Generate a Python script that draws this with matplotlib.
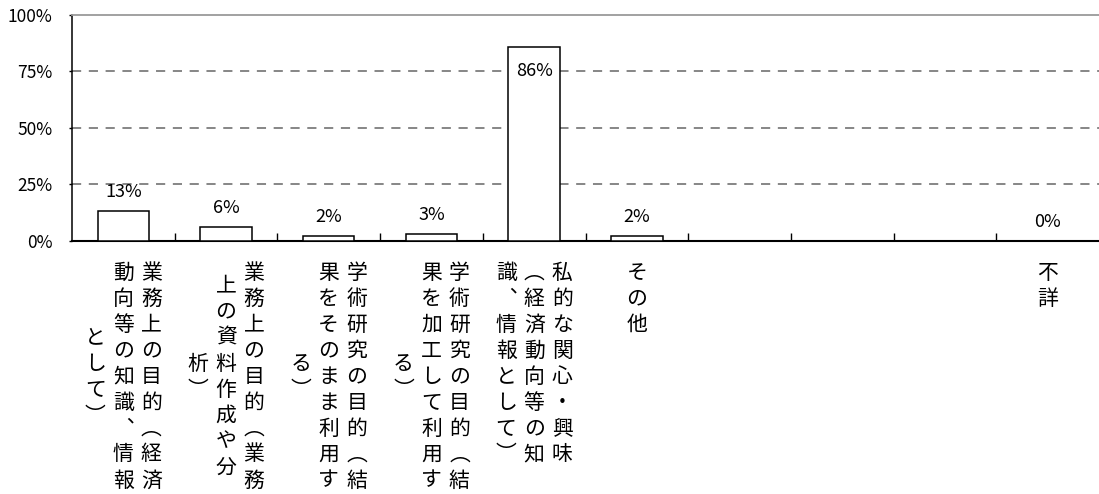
import numpy as np
import matplotlib
matplotlib.use("Agg")
from matplotlib import pyplot as plt

plt.rcParams['font.family'] = ['Noto Sans CJK JP', 'DejaVu Sans']

# categories, column breaks as in the reference (vertical text, right to left)
categories = [
    "業務上の目的（経済\n動向等の知識、情報\nとして）",
    "業務上の目的（業務\n上の資料作成や分\n析）",
    "学術研究の目的（結\n果をそのまま利用す\nる）",
    "学術研究の目的（結\n果を加工して利用す\nる）",
    "私的な関心・興味\n（経済動向等の知\n識、情報として）",
    "その他",
    "",
    "",
    "",
    "不詳",
]
values = [13, 6, 2, 3, 86, 2, None, None, None, 0]
value_labels = ["13%", "6%", "2%", "3%", "86%", "2%", "", "", "", "0%"]
yticks = [0, 25, 50, 75, 100]
ytick_labels = ["0%", "25%", "50%", "75%", "100%"]

# vertical forms for vertical writing
vert = {"（": "︵", "）": "︶", "、": "︑"}

W, H = 1099, 494
fig = plt.figure(figsize=(W / 100, H / 100), dpi=100)
ax = fig.add_axes([72 / W, 1 - 240.5 / H, 1 - 72 / W, (240.5 - 15) / H])

x = np.arange(len(categories)) + 0.5
for xi, v in zip(x, values):
    if v is None:
        continue
    ax.bar(xi, v, width=0.5, facecolor="white", edgecolor="black", linewidth=1.1, zorder=3)

# value labels
for xi, v, lab in zip(x, values, value_labels):
    if v is None:
        continue
    if v > 80:
        ax.annotate(lab, xy=(xi, v), xytext=(0, -11), textcoords="offset points",
                    ha="center", va="top", fontsize=13, zorder=4)
    else:
        ax.annotate(lab, xy=(xi, v), xytext=(0, 7), textcoords="offset points",
                    ha="center", va="bottom", fontsize=13, zorder=4)

# vertical category labels
px = 0.72  # points per pixel
col_gap = 28
pitch = 26
for xi, cat in zip(x, categories):
    if not cat:
        continue
    cols = cat.split("\n")
    n = len(cols)
    m = max(len(c) for c in cols)
    for c, col in enumerate(cols):
        dx = ((n - 1) / 2 - c) * col_gap
        start = 32 + (m - len(col)) / 2 * pitch
        for k, ch in enumerate(col):
            dy = start + k * pitch
            ax.annotate(vert.get(ch, ch), xy=(xi, 0), xycoords=("data", "axes fraction"),
                        xytext=(dx * px, -dy * px), textcoords="offset points",
                        ha="center", va="center", fontsize=15, annotation_clip=False)

ax.set_xlim(0, len(categories))
ax.set_ylim(0, 100)
ax.set_yticks(yticks)
ax.set_yticklabels(ytick_labels, fontsize=12.5)
ax.tick_params(axis="y", direction="out", length=2, width=1, pad=12)
ax.set_xticks([])
ax.set_xticks(np.arange(1, len(categories)), minor=True)
ax.tick_params(axis="x", which="minor", direction="in", length=5.5, width=1)

for yv in yticks[1:-1]:
    ax.axhline(yv, color="#666666", linewidth=1.1, linestyle=(0, (6, 5)), zorder=1)

ax.spines["right"].set_visible(False)
ax.spines["top"].set_color("#9a9a9a")
ax.spines["top"].set_linewidth(1.3)
ax.spines["left"].set_linewidth(1.1)
ax.spines["bottom"].set_linewidth(1.5)

fig.savefig("out.png", dpi=100)
